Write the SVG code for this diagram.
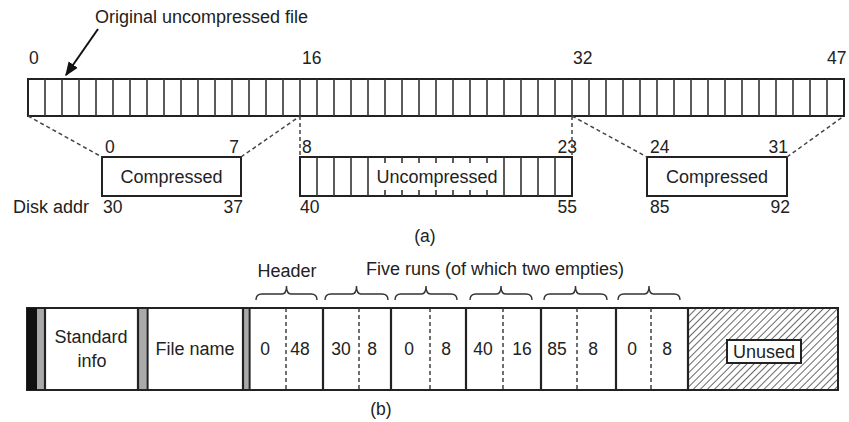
<svg xmlns="http://www.w3.org/2000/svg" width="849" height="422" viewBox="0 0 849 422">
<style>
text{font-family:"Liberation Sans",Arial,sans-serif;font-size:18px;fill:#222}
.n{font-size:17.5px}
.m{text-anchor:middle}
.e{text-anchor:end}
.box{fill:#fff;stroke:#222;stroke-width:2}
.cell{fill:none;stroke:#333;stroke-width:1.6}
.dash{fill:none;stroke:#444;stroke-width:1.5;stroke-dasharray:4 3}
.sep{stroke:#222;stroke-width:2.2}
.vd{stroke:#333;stroke-width:1.4;stroke-dasharray:4 3}
.gray{fill:#aaa}
.brace{fill:none;stroke:#333;stroke-width:1.4}
</style>
<defs>
<marker id="ah" viewBox="0 0 10 10" refX="9" refY="5" markerWidth="7" markerHeight="7" orient="auto">
<path d="M0,1 L10,5 L0,9 z" fill="#111"/>
</marker>
<pattern id="hatch" patternUnits="userSpaceOnUse" width="5" height="5" patternTransform="rotate(45)">
<rect width="5" height="5" fill="#fff"/>
<line x1="0" y1="0" x2="0" y2="5" stroke="#444" stroke-width="1.6"/>
</pattern>
</defs>

<g id="title">
<text x="95" y="23">Original uncompressed file</text>
</g>

<g id="file-bar">
<rect class="box" x="28" y="79" width="816" height="37"/>
<path class="cell" d="M45 79V116M62 79V116M79 79V116M96 79V116M113 79V116M130 79V116M147 79V116M164 79V116M181 79V116M198 79V116M215 79V116M232 79V116M249 79V116M266 79V116M283 79V116M300 79V116M317 79V116M334 79V116M351 79V116M368 79V116M385 79V116M402 79V116M419 79V116M436 79V116M453 79V116M470 79V116M487 79V116M504 79V116M521 79V116M538 79V116M555 79V116M572 79V116M589 79V116M606 79V116M623 79V116M640 79V116M657 79V116M674 79V116M691 79V116M708 79V116M725 79V116M742 79V116M759 79V116M776 79V116M793 79V116M810 79V116M827 79V116"/>
<text class="n" x="29" y="64">0</text>
<text class="n" x="302" y="64">16</text>
<text class="n" x="573" y="64">32</text>
<text class="n" x="827" y="64">47</text>
</g>

<g id="compressed-1">
<rect class="box" x="102" y="157" width="139" height="39"/>
<text class="m" x="171.5" y="183">Compressed</text>
<text class="n" x="105" y="153">0</text>
<text class="n e" x="239" y="153">7</text>
<text class="n" x="103" y="213">30</text>
<text class="n e" x="243" y="213">37</text>
</g>

<g id="disk-addr">
<text x="13" y="213">Disk addr</text>
</g>

<g id="uncompressed">
<rect class="box" x="300" y="157" width="272" height="39"/>
<path class="cell" d="M317 157V196M334 157V196M351 157V196M368 157V196M385 157V196M402 157V196M419 157V196M436 157V196M453 157V196M470 157V196M487 157V196M504 157V196M521 157V196M538 157V196M555 157V196"/>
<rect x="372" y="163" width="130" height="27" fill="#fff"/>
<text class="m" x="437" y="183">Uncompressed</text>
<text class="n" x="302" y="153">8</text>
<text class="n e" x="577" y="153">23</text>
<text class="n" x="300" y="213">40</text>
<text class="n e" x="577" y="213">55</text>
</g>

<g id="compressed-2">
<rect class="box" x="647" y="157" width="140" height="39"/>
<text class="m" x="717" y="183">Compressed</text>
<text class="n" x="650" y="153">24</text>
<text class="n e" x="788" y="153">31</text>
<text class="n" x="650" y="213">85</text>
<text class="n e" x="790" y="213">92</text>
</g>

<g id="label-a">
<text class="n m" x="425" y="242">(a)</text>
</g>

<g id="connectors">
<line x1="98" y1="29" x2="66" y2="75" stroke="#111" stroke-width="2" marker-end="url(#ah)"/>
<path class="dash" d="M28 116L102 157M241 157L300 116M300 116V157M572 116V157M572 116L647 157M787 157L844 116"/>
</g>

<g id="mft-record">
<rect x="27" y="308" width="811" height="82" fill="#fff" stroke="#222" stroke-width="2"/>
<rect x="27" y="308" width="10" height="82" fill="#111"/>
<rect class="gray" x="37" y="309" width="7" height="80"/>
<rect class="gray" x="138" y="309" width="8" height="80"/>
<rect class="gray" x="243" y="309" width="5" height="80"/>
<rect x="688" y="309" width="149" height="80" fill="url(#hatch)"/>
<path class="sep" d="M45 308V390M138 308V390M147.5 308V390M243 308V390M249.5 308V390M323 308V390M391 308V390M466 308V390M541 308V390M616 308V390M688 308V390"/>
<path class="vd" d="M286 308V390M359 308V390M430 308V390M503 308V390M577 308V390M651 308V390"/>
</g>

<g id="standard-info">
<text class="m" x="91" y="343">Standard</text>
<text class="m" x="92" y="367">info</text>
</g>

<g id="file-name">
<text class="m" x="195" y="355">File name</text>
</g>

<g id="header">
<path class="brace" d="M256 300Q256 294 262 294L282 294Q286.5 294 286.5 286Q286.5 294 291 294L311 294Q317 294 317 300"/>
<text class="m" x="287" y="277">Header</text>
<text class="n m" x="265" y="355">0</text>
<text class="n m" x="300" y="355">48</text>
</g>

<g id="runs">
<text class="m" x="495" y="275">Five runs (of which two empties)</text>
<path class="brace" d="M325 300Q325 294 331 294L352 294Q356.5 294 356.5 286Q356.5 294 361 294L382 294Q388 294 388 300"/>
<path class="brace" d="M395 300Q395 294 401 294L421.5 294Q426 294 426 286Q426 294 430.5 294L451 294Q457 294 457 300"/>
<path class="brace" d="M470 300Q470 294 476 294L496.5 294Q501 294 501 286Q501 294 505.5 294L526 294Q532 294 532 300"/>
<path class="brace" d="M544 300Q544 294 550 294L571 294Q575.5 294 575.5 286Q575.5 294 580 294L601 294Q607 294 607 300"/>
<path class="brace" d="M618 300Q618 294 624 294L644.5 294Q649 294 649 286Q649 294 653.5 294L674 294Q680 294 680 300"/>
<text class="n m" x="341" y="355">30</text>
<text class="n m" x="372" y="355">8</text>
<text class="n m" x="409" y="355">0</text>
<text class="n m" x="446" y="355">8</text>
<text class="n m" x="483" y="355">40</text>
<text class="n m" x="522" y="355">16</text>
<text class="n m" x="557" y="355">85</text>
<text class="n m" x="593" y="355">8</text>
<text class="n m" x="632" y="355">0</text>
<text class="n m" x="667" y="355">8</text>
</g>

<g id="unused">
<rect class="box" x="727" y="340" width="74" height="23"/>
<text class="m" x="764" y="358">Unused</text>
</g>

<g id="label-b">
<text class="n m" x="381" y="415">(b)</text>
</g>
</svg>
